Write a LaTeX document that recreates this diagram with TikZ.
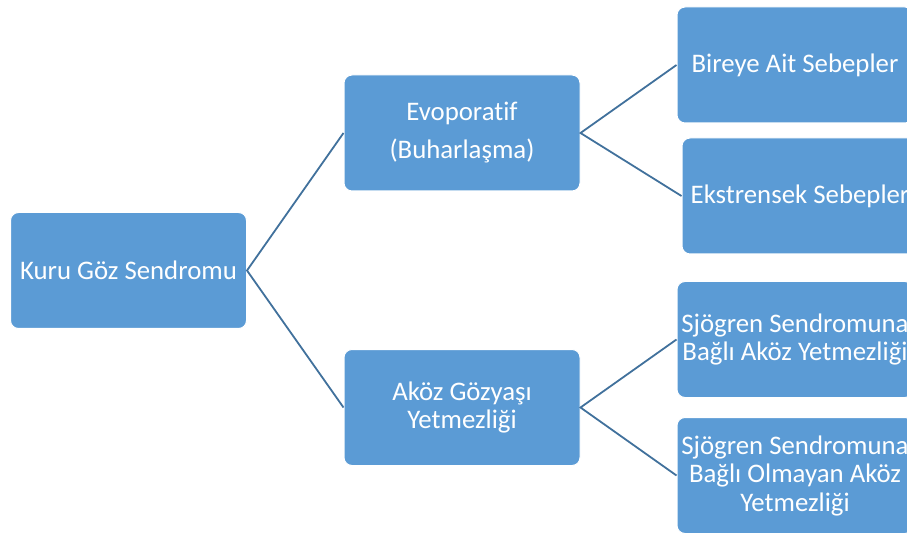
\documentclass[tikz,border=0pt]{standalone}
\usepackage{fontspec}
\setmainfont[Ligatures=NoCommon]{Carlito}
\definecolor{boxfill}{HTML}{5B9BD5}
\definecolor{linecol}{HTML}{41719C}
\tikzset{
  x=1pt, y=-1pt,
  box/.style={draw=white, line width=1pt, fill=boxfill, rounded corners=8pt,
    minimum width=236pt, minimum height=116pt, inner sep=0pt, text=white,
    align=center, font=\fontsize{26.8}{28.5}\selectfont},
  conn/.style={draw=linecol, line width=1.8pt}
}
\begin{document}
\begin{tikzpicture}
\useasboundingbox (0,0) rectangle (907,534);
\clip (0,0) rectangle (907,534);
\node[box] (root) at (128.5,270.5) {Kuru Göz Sendromu};
\node[box] (evo) at (462,133) {Evoporatif\\[9.5pt](Buharlaşma)};
\node[box] (akoz) at (462,407.5) {Aköz Gözyaşı\\Yetmezliği};
\node[box] (bir) at (795,65) {Bireye Ait Sebepler};
\node[box] (eks) at (800,196) {Ekstrensek Sebepler};
\node[box] (sj1) at (795,339.5) {Sjögren Sendromuna\\Bağlı Aköz Yetmezliği};
\node[box] (sj2) at (795,475.5) {Sjögren Sendromuna\\Bağlı Olmayan Aköz\\Yetmezliği};
\draw[conn] (evo.west) -- (root.east) -- (akoz.west);
\draw[conn] (bir.west) -- (evo.east) -- (eks.west);
\draw[conn] (sj1.west) -- (akoz.east) -- (sj2.west);
\end{tikzpicture}
\end{document}
